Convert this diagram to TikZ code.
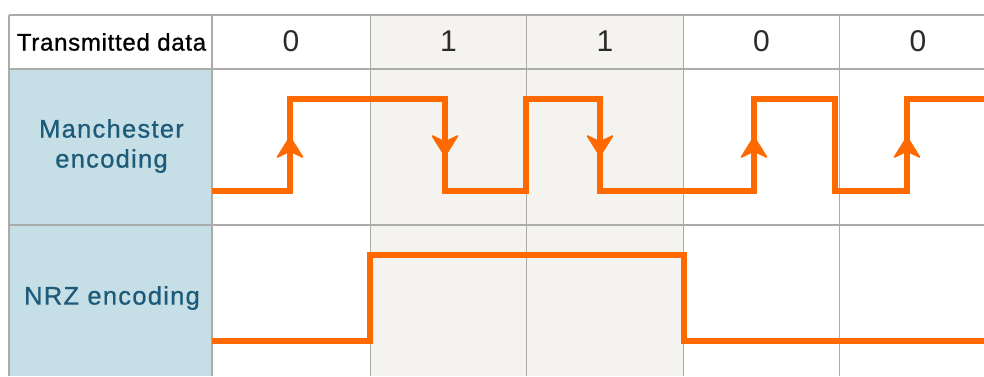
\documentclass[tikz,border=0pt]{standalone}
\usepackage{fontspec}
\setmainfont{Liberation Sans}
\definecolor{gridgray}{HTML}{ABABAB}
\definecolor{colshade}{HTML}{F4F3EF}
\definecolor{labelblue}{HTML}{C6DFE6}
\definecolor{labeltext}{HTML}{1E5B7A}
\definecolor{signal}{HTML}{FF6A00}
\definecolor{digit}{HTML}{2B2B2B}
\tikzset{
  grid/.style={draw=gridgray, line width=1.4pt},
  wave/.style={draw=signal, line width=6.5pt, line join=miter},
  % filled arrowhead marking a mid-bit transition; tip at the origin, pointing up
  pics/uphead/.style={code={
    \filldraw[signal, line width=1.6pt, line join=round]
      (0,0) -- (12.5,20) -- (0,14) -- (-12.5,20) -- cycle;}},
  rowlabel/.style={text=labeltext, font=\fontsize{25.5}{30}\selectfont\addfontfeature{LetterSpace=5,FakeBold=0.8}, align=center},
  bitlabel/.style={text=digit, font=\fontsize{30}{30}\selectfont},
  headlabel/.style={text=black, font=\fontsize{24}{26}\selectfont\addfontfeature{LetterSpace=3,FakeBold=0.8}}
}
\begin{document}
\begin{tikzpicture}[x=1pt, y=-1pt]
\useasboundingbox (0,0) rectangle (984,376);
% background cells
\fill[white] (0,0) rectangle (984,376);
\fill[colshade] (370.5,15) rectangle (683.5,376);
\fill[labelblue] (9,69) rectangle (212,376);
% table rules
\foreach \y in {15,69,225} \draw[grid] (9,\y) -- (984,\y);
\foreach \x in {9,212,370.5,526.5,683.5,839.5} \draw[grid] (\x,15) -- (\x,376);
% header row
\node[headlabel] (hdr) at (111.5,42) {Transmitted data};
\node[bitlabel] (b1) at (291,41) {0};
\node[bitlabel] (b2) at (448.5,41) {1};
\node[bitlabel] (b3) at (605,41) {1};
\node[bitlabel] (b4) at (761.5,41) {0};
\node[bitlabel] (b5) at (918,41) {0};
% row labels
\node[rowlabel] (man) at (111.5,146) {Manchester\\encoding};
\node[rowlabel] (nrz) at (112,298) {NRZ encoding};
% Manchester waveform
\draw[wave] (212,191) -- (290,191) -- (290,99) -- (445,99) -- (445,191)
  -- (526,191) -- (526,99) -- (600,99) -- (600,191) -- (754,191)
  -- (754,99) -- (835,99) -- (835,191) -- (907,191) -- (907,99) -- (984,99);
% mid-bit transition directions
\pic at (290,137) {uphead};
\pic[rotate=180] at (445,156) {uphead};
\pic[rotate=180] at (600,156) {uphead};
\pic at (754,137) {uphead};
\pic at (907,137) {uphead};
% NRZ waveform
\draw[wave] (212,341) -- (370,341) -- (370,255) -- (684,255) -- (684,341) -- (984,341);
\end{tikzpicture}
\end{document}
